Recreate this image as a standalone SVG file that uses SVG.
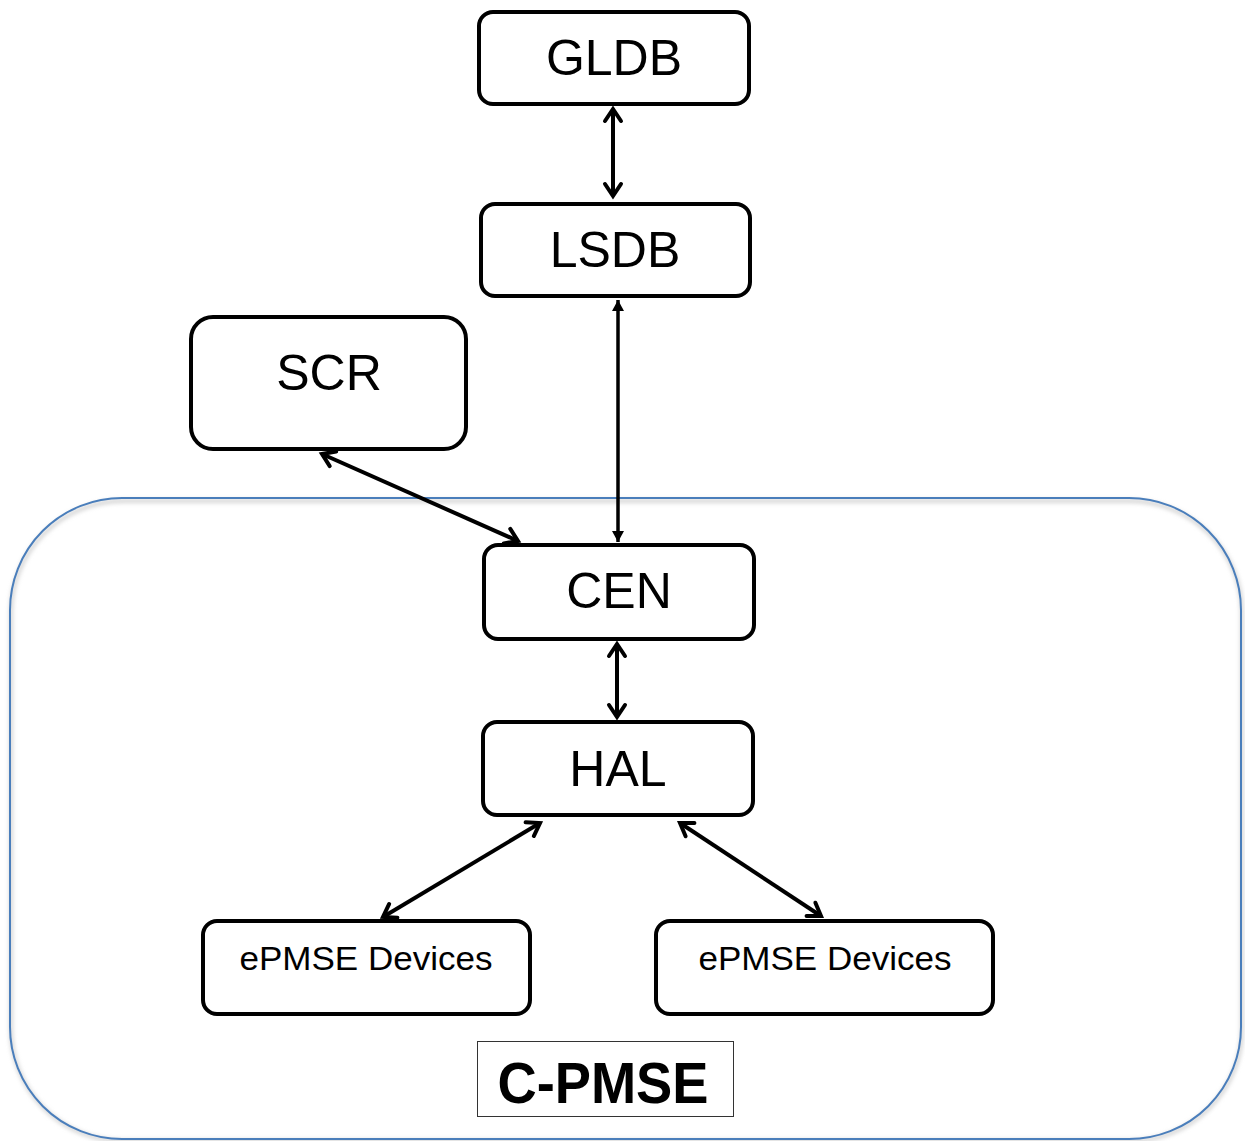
<svg xmlns="http://www.w3.org/2000/svg" width="1245" height="1141" viewBox="0 0 1245 1141">
  <style>
    .node { fill: #ffffff; stroke: #000000; stroke-width: 4; }
    .label { font-family: "Liberation Sans", Arial, sans-serif; fill: #000000; text-anchor: middle; }
    .big { font-size: 50px; }
    .small { font-size: 34px; }
    .link { stroke: #000000; stroke-width: 4; fill: none; }
    .thin { stroke: #000000; stroke-width: 3.5; fill: none; }
  </style>
  <defs>
    <marker id="open" markerUnits="userSpaceOnUse" viewBox="-16 -12 20 24" refX="0" refY="0" markerWidth="20" markerHeight="24" orient="auto-start-reverse">
      <path d="M-12,-8 L0,0 L-12,8" fill="none" stroke="#000" stroke-width="4" stroke-linecap="round" stroke-linejoin="miter"/>
    </marker>
    <marker id="solid" markerUnits="userSpaceOnUse" viewBox="-12 -7 14 14" refX="0" refY="0" markerWidth="14" markerHeight="14" orient="auto-start-reverse">
      <path d="M-11,-6 L0,0 L-11,6 Z" fill="#000"/>
    </marker>
    <filter id="soft" x="-5%" y="-5%" width="110%" height="110%">
      <feGaussianBlur stdDeviation="2"/>
    </filter>
  </defs>

  <rect width="1245" height="1141" fill="#ffffff"/>

  <!-- C-PMSE system boundary -->
  <g id="cpmse-boundary">
    <rect x="11" y="501" width="1231" height="640" rx="112" ry="112" fill="none" stroke="#c8c8c8" stroke-width="3" filter="url(#soft)"/>
    <rect x="10" y="498" width="1231" height="641" rx="112" ry="112" fill="none" stroke="#4a7ebb" stroke-width="2"/>
  </g>

  <!-- connectors -->
  <g id="connectors">
    <line class="link" x1="613" y1="109" x2="613" y2="196" marker-start="url(#open)" marker-end="url(#open)"/>
    <line class="thin" x1="618" y1="300" x2="618" y2="542" marker-start="url(#solid)" marker-end="url(#solid)"/>
    <line class="link" x1="322" y1="454" x2="518" y2="541" marker-start="url(#open)" marker-end="url(#open)"/>
    <line class="link" x1="617" y1="644" x2="617" y2="717" marker-start="url(#open)" marker-end="url(#open)"/>
    <line class="link" x1="540" y1="823" x2="383" y2="917" marker-start="url(#open)" marker-end="url(#open)"/>
    <line class="link" x1="680" y1="823" x2="821" y2="916" marker-start="url(#open)" marker-end="url(#open)"/>
  </g>

  <g id="gldb">
    <rect class="node" x="479" y="12" width="270" height="92" rx="14"/>
    <text class="label big" x="614" y="75">GLDB</text>
  </g>

  <g id="lsdb">
    <rect class="node" x="481" y="204" width="269" height="92" rx="14"/>
    <text class="label big" x="615" y="267">LSDB</text>
  </g>

  <g id="scr">
    <rect class="node" x="191" y="317" width="275" height="132" rx="22"/>
    <text class="label big" x="329" y="390">SCR</text>
  </g>

  <g id="cen">
    <rect class="node" x="484" y="545" width="270" height="94" rx="14"/>
    <text class="label big" x="619" y="608">CEN</text>
  </g>

  <g id="hal">
    <rect class="node" x="483" y="722" width="270" height="93" rx="14"/>
    <text class="label big" x="618" y="786">HAL</text>
  </g>

  <g id="epmse-left">
    <rect class="node" x="203" y="921" width="327" height="93" rx="14"/>
    <text class="label small" x="366" y="970" textLength="253" lengthAdjust="spacingAndGlyphs">ePMSE Devices</text>
  </g>

  <g id="epmse-right">
    <rect class="node" x="656" y="921" width="337" height="93" rx="14"/>
    <text class="label small" x="825" y="970" textLength="253" lengthAdjust="spacingAndGlyphs">ePMSE Devices</text>
  </g>

  <g id="cpmse-title">
    <rect x="477.5" y="1041.5" width="256" height="75" fill="#ffffff" stroke="#333333" stroke-width="1"/>
    <text class="label" x="603" y="1103" font-size="58" font-weight="bold" textLength="211" lengthAdjust="spacingAndGlyphs">C-PMSE</text>
  </g>
</svg>
